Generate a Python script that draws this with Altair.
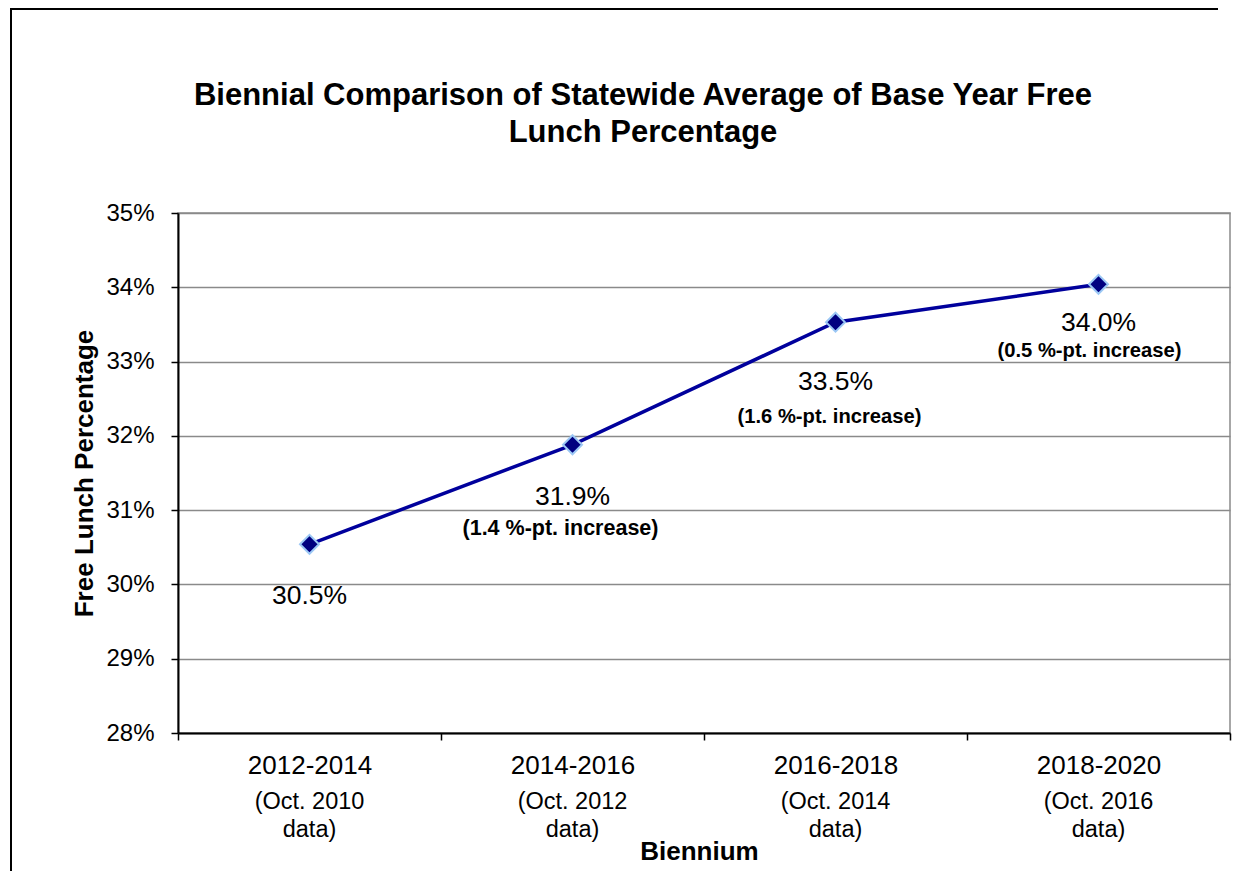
import altair as alt
import pandas as pd

# ---------------- data ----------------
bienniums = ["2012-2014", "2014-2016", "2016-2018", "2018-2020"]
data_notes = ["(Oct. 2010\ndata)", "(Oct. 2012\ndata)", "(Oct. 2014\ndata)", "(Oct. 2016\ndata)"]
free_lunch_pct = [30.54, 31.88, 33.53, 34.04]
value_labels = ["30.5%", "31.9%", "33.5%", "34.0%"]
increase_labels = ["", "(1.4 %-pt. increase)", "(1.6 %-pt. increase)", "(0.5 %-pt. increase)"]
y_ticks = [28, 29, 30, 31, 32, 33, 34, 35]
title_lines = ["Biennial Comparison of Statewide Average of Base Year Free", "Lunch Percentage"]

df = pd.DataFrame({
    "biennium": bienniums,
    "note": data_notes,
    "pct": free_lunch_pct,
    "value_label": value_labels,
    "increase": increase_labels,
    "idx": list(range(len(bienniums))),
})

FONT = "Liberation Sans"
W, H = 1052, 520

x_enc = alt.X(
    "biennium:N",
    sort=bienniums,
    scale=alt.Scale(type="band", paddingInner=0, paddingOuter=0),
    axis=alt.Axis(
        title="Biennium",
        labelAngle=0,
        labelFont=FONT,
        labelFontSize=26,
        labelColor="black",
        labelBaseline="alphabetic",
        labelPadding=33,
        tickBand="extent",
        tickColor="black",
        tickSize=7,
        tickWidth=1.5,
        domainColor="black",
        domainWidth=2,
        grid=False,
        titleFont=FONT,
        titleFontSize=26,
        titleFontWeight="bold",
        titleColor="black",
        titleX=521,
        titleY=126,
        titleBaseline="alphabetic",
        titleAlign="center",
    ),
)

y_enc = alt.Y(
    "pct:Q",
    scale=alt.Scale(domain=[28, 35], nice=False, zero=False),
    axis=alt.Axis(
        title="Free Lunch Percentage",
        values=y_ticks,
        labelExpr="datum.value + '%'",
        labelFont=FONT,
        labelFontSize=24,
        labelColor="black",
        labelPadding=17,
        tickColor="black",
        tickSize=7,
        tickWidth=1.5,
        domainColor="black",
        domainWidth=2,
        grid=True,
        gridColor="#8a8a8a",
        gridWidth=1.5,
        titleFont=FONT,
        titleFontSize=26,
        titleFontWeight="bold",
        titleColor="black",
        titleAngle=270,
        titleX=-86,
        titleY=260,
        titleBaseline="alphabetic",
        titleAlign="center",
    ),
)

base = alt.Chart(df)
one = alt.Chart(pd.DataFrame({"k": [0]}))

# outer chart-area frame: left and top edges only (the rest lies beyond the picture)
frame_left = one.mark_rule(color="black", strokeWidth=2).encode(
    x=alt.value(-167), y=alt.value(-205), y2=alt.value(700)
)
frame_top = one.mark_rule(color="black", strokeWidth=2).encode(
    x=alt.value(-168), x2=alt.value(1040), y=alt.value(-204)
)

title = one.mark_text(
    text=title_lines, font=FONT, fontSize=31, fontWeight="bold", color="black",
    align="center", baseline="alphabetic", lineHeight=37,
).encode(x=alt.value(465), y=alt.value(-108))

line = base.mark_line(color="#00009C", strokeWidth=3.5).encode(x=x_enc, y=y_enc)

points = base.mark_point(
    shape="diamond", filled=True, color="#000080", stroke="#9cc8f5",
    strokeWidth=2, size=360, opacity=1,
).encode(x=x_enc, y=y_enc)

notes = base.mark_text(
    font=FONT, fontSize=23.5, color="black", align="center", baseline="alphabetic",
    lineBreak="\n", lineHeight=28,
).encode(x=alt.X("biennium:N", sort=bienniums), y=alt.value(596), text="note:N")

# per-label offsets (annotation placement, relative to each point)
value_dy = [60, 60, 68, 47]
inc_dy = [0, 90, 101, 73]
inc_dx = [0, -12, -6, -9]
inc_size = [20, 21.5, 20.2, 20.2]

label_layers = []
for i in range(len(bienniums)):
    sel = base.transform_filter(alt.datum.idx == i)
    label_layers.append(
        sel.mark_text(font=FONT, fontSize=26.5, color="black", align="center",
                      baseline="alphabetic", dy=value_dy[i]).encode(
            x=alt.X("biennium:N", sort=bienniums), y="pct:Q", text="value_label:N")
    )
    if increase_labels[i]:
        label_layers.append(
            sel.mark_text(font=FONT, fontSize=inc_size[i], fontWeight="bold", color="black",
                          align="center", baseline="alphabetic",
                          dy=inc_dy[i], dx=inc_dx[i]).encode(
                x=alt.X("biennium:N", sort=bienniums), y="pct:Q", text="increase:N")
        )

chart = alt.layer(frame_left, frame_top, title, line, points, notes, *label_layers).properties(
    width=W, height=H,
    autosize=alt.AutoSizeParams(type="none"),
    padding={"left": 170, "top": 205, "right": 17, "bottom": 138},
    background="white",
).configure_view(stroke="#8a8a8a", strokeWidth=1.5)

chart.save("out.html", embed_options={"renderer": "svg", "actions": False})
